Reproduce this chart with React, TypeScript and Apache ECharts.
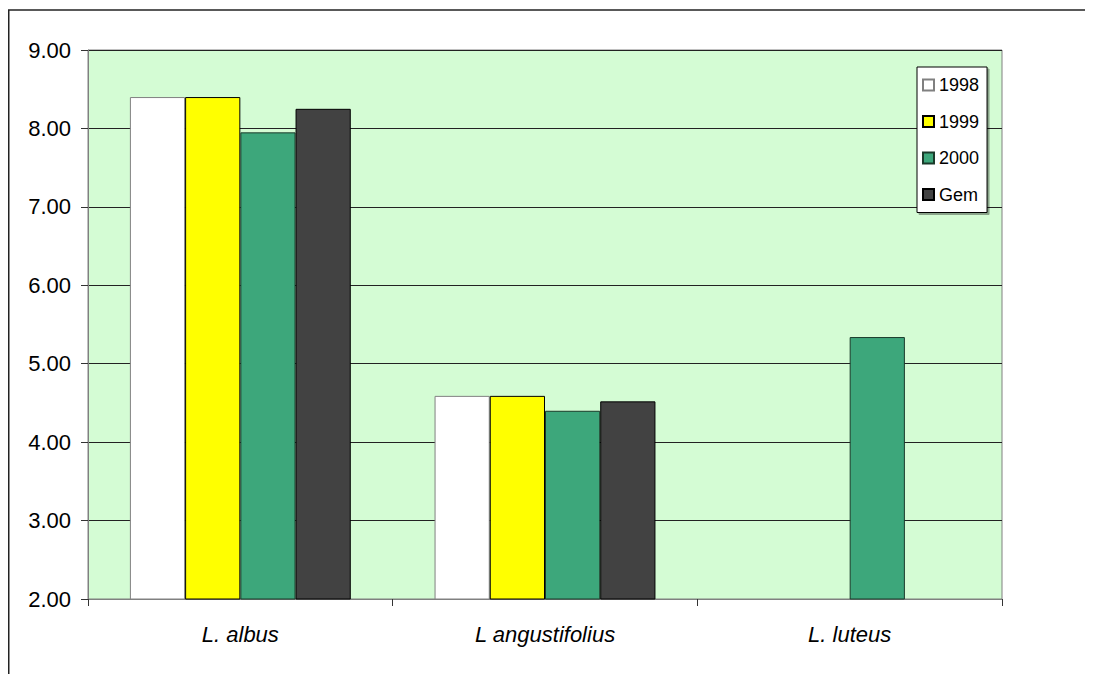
import React, { useEffect, useRef } from "react";
import * as echarts from "echarts";

const categories = ["L. albus", "L angustifolius", "L. luteus"];
const seriesNames = ["1998", "1999", "2000", "Gem"];
const values1998 = [8.4, 4.59, null];
const values1999 = [8.4, 4.59, null];
const values2000 = [7.95, 4.4, 5.34];
const valuesGem = [8.25, 4.52, null];
const yTicks = [2, 3, 4, 5, 6, 7, 8, 9];

const colors = ["#FFFFFF", "#FFFF00", "#3DA77B", "#424242"];
const borders = ["#808080", "#000000", "#1A3A2A", "#000000"];

export default function App() {
  const ref = useRef<HTMLDivElement>(null);
  useEffect(() => {
    if (!ref.current) return;
    document.body.style.overflow = "hidden";
    const chart = echarts.init(ref.current, undefined, { renderer: "svg" });
    const data = [values1998, values1999, values2000, valuesGem];
    const font = "'Liberation Sans', Arial, sans-serif";
    chart.setOption({
      animation: false,
      backgroundColor: "#FFFFFF",
      textStyle: { fontFamily: font },
      graphic: [
        { type: "line", shape: { x1: 0, y1: 2, x2: 1085, y2: 2 }, style: { stroke: "#222", lineWidth: 1.5 } },
        { type: "line", shape: { x1: 0.75, y1: 2, x2: 0.75, y2: 666 }, style: { stroke: "#222", lineWidth: 1.5 } },
      ],
      grid: {
        left: 80,
        top: 42,
        width: 914,
        height: 549,
        show: true,
        backgroundColor: "#D4FCD4",
        borderColor: "#808080",
        borderWidth: 1,
      },
      legend: {
        orient: "vertical",
        left: 909,
        top: 59,
        data: seriesNames,
        icon: "rect",
        itemWidth: 11,
        itemHeight: 11,
        itemGap: 18.5,
        padding: [9, 8, 9, 5],
        backgroundColor: "#FFFFFF",
        borderColor: "#000000",
        borderWidth: 1,
        shadowColor: "rgba(0,0,0,0.35)",
        shadowOffsetX: 2,
        shadowOffsetY: 2,
        shadowBlur: 0,
        textStyle: { fontSize: 18, color: "#000", fontFamily: font, lineHeight: 18 },
      },
      xAxis: {
        type: "category",
        data: categories,
        axisLine: { show: true, lineStyle: { color: "#808080", width: 1 } },
        axisTick: { show: true, alignWithLabel: false, length: 7, lineStyle: { color: "#333" } },
        axisLabel: { fontSize: 22, fontStyle: "italic", color: "#000", margin: 24, fontFamily: font },
        splitLine: { show: false },
      },
      yAxis: {
        type: "value",
        min: 2,
        max: 9,
        interval: 1,
        axisLine: { show: true, lineStyle: { color: "#808080", width: 1 } },
        axisTick: { show: true, length: 7, lineStyle: { color: "#333" } },
        axisLabel: {
          fontSize: 22,
          color: "#000",
          margin: 17,
          fontFamily: font,
          formatter: (v: number) => (yTicks.includes(v) ? v.toFixed(2) : ""),
        },
        splitLine: { show: true, lineStyle: { color: "#222", width: 1 } },
      },
      series: seriesNames.map((name, i) => ({
        name,
        type: "bar",
        data: data[i],
        barGap: "0%",
        barCategoryGap: "27.5%",
        itemStyle: { color: colors[i], borderColor: borders[i], borderWidth: 1 },
      })),
    });
    return () => chart.dispose();
  }, []);
  return <div ref={ref} style={{ width: 1085, height: 666 }} />;
}
